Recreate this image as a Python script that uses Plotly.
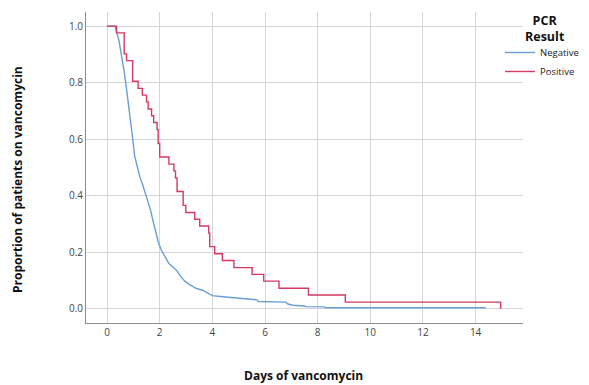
import plotly.graph_objects as go

# Positive PCR (step Kaplan-Meier style curve)
pos_days = [0, 0.36, 0.65, 0.74, 0.97, 1.18, 1.34, 1.50, 1.56, 1.69, 1.77, 1.90, 1.94, 2.00,
            2.35, 2.54, 2.60, 2.66, 2.89, 2.99, 3.33, 3.52, 3.86, 3.90, 4.09, 4.38, 4.82,
            5.51, 5.95, 6.53, 7.65, 9.05, 14.95]
pos_prop = [1.0, 0.976, 0.902, 0.878, 0.805, 0.780, 0.756, 0.732, 0.707, 0.683, 0.659, 0.634,
            0.585, 0.537, 0.512, 0.488, 0.463, 0.415, 0.366, 0.341, 0.317, 0.293, 0.268,
            0.220, 0.195, 0.171, 0.146, 0.122, 0.098, 0.073, 0.049, 0.024, 0.0]

# Negative PCR
neg_days = [0, 0.30, 0.45, 0.55, 0.65, 0.75, 0.85, 0.95, 1.05, 1.15, 1.25, 1.35, 1.45, 1.55,
            1.65, 1.75, 1.85, 1.95, 2.05, 2.20, 2.35, 2.50, 2.65, 2.80, 2.95, 3.15, 3.40,
            3.65, 3.85, 4.00, 4.40, 4.80, 5.30, 5.70, 5.75, 6.80, 6.85, 7.05, 7.50, 7.55,
            8.25, 8.30, 14.38]
neg_prop = [1.0, 1.0, 0.95, 0.90, 0.84, 0.77, 0.70, 0.62, 0.54, 0.50, 0.465, 0.44, 0.41, 0.38,
            0.35, 0.31, 0.27, 0.235, 0.21, 0.185, 0.16, 0.148, 0.135, 0.115, 0.098, 0.085,
            0.072, 0.065, 0.056, 0.047, 0.043, 0.039, 0.034, 0.032, 0.026, 0.024, 0.018,
            0.013, 0.010, 0.008, 0.007, 0.004, 0.004]

x_ticks = [0, 2, 4, 6, 8, 10, 12, 14]
y_ticks = [0.0, 0.2, 0.4, 0.6, 0.8, 1.0]

BLUE = "#6a9fd6"
RED = "#d43a62"
FONT = "Open Sans"

fig = go.Figure()
fig.add_trace(go.Scatter(x=neg_days, y=neg_prop, mode="lines", name="Negative",
                         line=dict(color=BLUE, width=1.4, shape="linear")))
fig.add_trace(go.Scatter(x=pos_days, y=pos_prop, mode="lines", name="Positive",
                         line=dict(color=RED, width=1.4, shape="hv")))

# page pixel geometry (the page body adds an 8px offset)
OFF = 8
W, H = 589 - OFF, 385 - OFF
PL, PR, PT, PB = 86, 523, 12, 323          # plot area edges in page pixels
L, R, T, B = PL - OFF, W - (PR - OFF), PT - OFF, H - (PB - OFF)
pw, ph = PR - PL, PB - PT

def px(p):
    return (p - PL) / pw

def py(q):
    return (PB - q) / ph

fig.update_layout(
    width=W, height=H,
    margin=dict(l=L, r=R, t=T, b=B, autoexpand=False),
    paper_bgcolor="white", plot_bgcolor="white",
    font=dict(family=FONT, size=10, color="#444"),
    showlegend=True,
    legend=dict(x=px(500), y=py(38), xanchor="left", yanchor="top",
                font=dict(size=9.5, color="#222"), bgcolor="rgba(0,0,0,0)",
                tracegroupgap=0, itemwidth=30),
    xaxis=dict(range=[-0.8, 15.8], tickvals=x_ticks, showgrid=True, gridcolor="#d6d6d6",
               gridwidth=1, zeroline=False, showline=True, linecolor="#8c8c8c",
               linewidth=1, ticks="", tickfont=dict(size=10, color="#444")),
    yaxis=dict(range=[-0.05, 1.05], tickvals=y_ticks, tickformat=".1f", showgrid=True,
               gridcolor="#d6d6d6", gridwidth=1, zeroline=False, showline=True,
               linecolor="#8c8c8c", linewidth=1, ticks="",
               tickfont=dict(size=10, color="#444")),
    annotations=[
        dict(text="<b>Proportion of patients on vancomycin</b>", xref="paper", yref="paper",
             x=px(18), y=py(180), textangle=-90, showarrow=False,
             font=dict(family=FONT, size=12, color="#111"), xanchor="center", yanchor="middle"),
        dict(text="<b>Days of vancomycin</b>", xref="paper", yref="paper",
             x=px(303), y=py(375), showarrow=False,
             font=dict(family=FONT, size=12, color="#111"), xanchor="center", yanchor="middle"),
        dict(text="<b>PCR<br>Result</b>", xref="paper", yref="paper",
             x=px(545), y=py(28), showarrow=False,
             font=dict(family=FONT, size=12.5, color="#111"), xanchor="center", yanchor="middle"),
    ],
)

fig.write_html("out.html")
